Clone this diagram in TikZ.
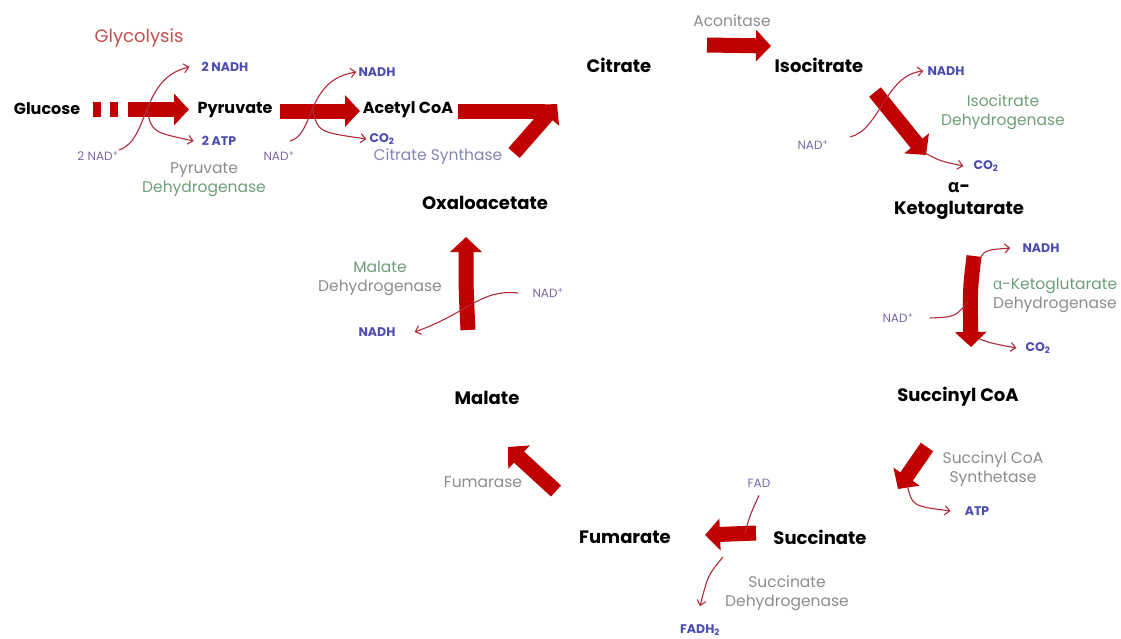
\documentclass[tikz,border=0pt]{standalone}
\usepackage{fontspec}
\setmainfont{Poppins}
\newfontfamily\greekfont{Open Sans}
\usetikzlibrary{arrows.meta}

\definecolor{fatred}{HTML}{C00000}
\definecolor{sidered}{HTML}{B02A3A}
\definecolor{glyred}{HTML}{C0504D}
\definecolor{cofblue}{HTML}{4B4BB0}
\definecolor{nadpurple}{HTML}{7A68A8}
\definecolor{enzgray}{HTML}{8C8C8C}
\definecolor{enzgreen}{HTML}{6E9E78}
\definecolor{enzblue}{HTML}{8484B4}

\tikzset{
  met/.style={font=\bfseries\fontsize{18}{22}\selectfont, text=black, inner sep=0pt, align=center},
  toprow/.style={met, font=\bfseries\fontsize{16}{20}\selectfont},
  cof/.style={font=\bfseries\fontsize{12.5}{14}\selectfont, text=cofblue, inner sep=0pt},
  nad/.style={font=\fontsize{12}{14}\selectfont, text=nadpurple, inner sep=0pt},
  enz/.style={font=\fontsize{15.5}{19}\selectfont, text=enzgray, align=center, inner sep=0pt},
  fatarrow/.style={line width=15pt, draw=fatred, -{Triangle[length=15pt,width=31pt]}},
  fatbar/.style={line width=15pt, draw=fatred},
  side/.style={line width=1.1pt, draw=sidered, -{Straight Barb[length=5pt,width=9pt]}},
  sidebar/.style={line width=1.1pt, draw=sidered},
}

\begin{document}
\begin{tikzpicture}[x=1pt,y=-1pt]
\useasboundingbox (0,0) rectangle (1121,638);

% metabolites
\node[toprow] (glucose) at (47,109) {Glucose};
\node[toprow] (pyruvate) at (235,110) {Pyruvate};
\node[toprow] (acetylcoa) at (408,110) {Acetyl CoA};
\node[met] (citrate) at (619,65) {Citrate};
\node[met] (isocitrate) at (819,65) {Isocitrate};
\node[met] (akg) at (959,201) {{\greekfont α}-\\Ketoglutarate};
\node[met] (succinylcoa) at (958,397) {Succinyl CoA};
\node[met] (succinate) at (820,537) {Succinate};
\node[met] (fumarate) at (625,537) {Fumarate};
\node[met] (malate) at (487,398) {Malate};
\node[met] (oxaloacetate) at (485,203) {Oxaloacetate};

% enzymes
\node[font=\fontsize{18}{20}\selectfont, text=glyred] (glycolysis) at (139,38) {Glycolysis};
\node[enz] (pdh) at (204,180) {Pyruvate\\\textcolor{enzgreen}{Dehydrogenase}};
\node[enz, text=enzblue] (cs) at (438,157) {Citrate Synthase};
\node[enz] (aconitase) at (732,21) {Aconitase};
\node[enz, text=enzgreen] (idh) at (1003,112) {Isocitrate\\Dehydrogenase};
\node[enz] (akgdh) at (1055,295) {\textcolor{enzgreen}{{\greekfont α}-Ketoglutarate}\\Dehydrogenase};
\node[enz] (scs) at (993,469) {Succinyl CoA\\Synthetase};
\node[enz] (sdh) at (787,593) {Succinate\\Dehydrogenase};
\node[enz] (fumarase) at (483,482) {Fumarase};
\node[enz] (mdh) at (380,278) {\textcolor{enzgreen}{Malate}\\Dehydrogenase};

% cofactors
\node[cof] (nadhA) at (225,67) {2 NADH};
\node[cof] (atpA) at (219,141) {2 ATP};
\node[nad] (nadA) at (98,156) {2 NAD\textsuperscript{+}};
\node[nad] (nadB) at (279,156) {NAD\textsuperscript{+}};
\node[cof] (nadhB) at (377,72) {NADH};
\node[cof] (coB) at (382,139) {CO\textsubscript{2}};
\node[cof] (nadhC) at (946,71) {NADH};
\node[nad] (nadC) at (813,145) {NAD\textsuperscript{+}};
\node[cof] (coC) at (986,166) {CO\textsubscript{2}};
\node[cof] (nadhD) at (1041,248) {NADH};
\node[nad] (nadD) at (898,318) {NAD\textsuperscript{+}};
\node[cof] (coD) at (1038,348) {CO\textsubscript{2}};
\node[cof] (atpE) at (977,511) {ATP};
\node[nad] (fad) at (759,483) {FAD};
\node[cof] (fadh) at (700,630) {FADH\textsubscript{2}};
\node[nad] (nadG) at (548,293) {NAD\textsuperscript{+}};
\node[cof] (nadhG) at (377,332) {NADH};

% big arrows
\coordinate (g1) at (93,109.5);
\coordinate (g2) at (189,109.5);
\draw[fatarrow, dash pattern=on 8pt off 9pt on 8pt off 10pt on 200pt] (g1) -- (g2);
\draw[fatarrow] (280,111) -- (360,111);
\draw[fatbar] (458,111) -- (545,111);
\draw[fatarrow] (514,153) -- (557,104);
\draw[fatarrow] (707,45) -- (771,46);
\draw[fatarrow] (875,92) -- (926,155);
\draw[fatarrow] (974,256) .. controls (970,290) .. (971,347);
\draw[fatarrow] (927,447) -- (898,489);
\draw[fatarrow] (756,533) -- (705,535);
\draw[fatarrow] (556,491) -- (508,447);
\draw[fatarrow] (468,330) .. controls (466,290) .. (466,237);

% side reactions
\coordinate (brA) at (147,110);
\draw[side] (119,150) .. controls (150,140) and (140,78) .. ([xshift=-12pt]nadhA.west);
\draw[side] (brA) .. controls (152,132) .. ([xshift=-8pt]atpA.west);

\coordinate (brB) at (313,110);
\draw[side] (290,141) .. controls (315,135) and (305,80) .. ([xshift=-2pt]nadhB.west);
\draw[side] (brB) .. controls (318,132) .. ([xshift=-3pt]coB.west);

\draw[side] (850,137) .. controls (880,130) and (885,75) .. ([xshift=-4pt]nadhC.west);
\draw[side] (925,153) .. controls (940,161) .. ([xshift=-10pt]coC.west);

\draw[side] (978,263) .. controls (984,250) .. ([xshift=-12pt]nadhD.west);
\draw[sidebar] ([xshift=16pt]nadD.east) .. controls (955,317) .. (968,302);
\draw[side] (977,338) .. controls (990,343) .. ([xshift=-9pt]coD.west);

\draw[side] (907,484) .. controls (912,506) .. ([xshift=-14pt]atpE.west);

\draw[sidebar] ([yshift=-8pt]fad.south) .. controls (750,515) .. (745,533);
\draw[side] (723,557) .. controls (708,575) .. ([yshift=18pt]fadh.north);

\draw[side] ([xshift=-14pt]nadG.west) .. controls (480,289) and (470,312) .. ([xshift=19pt]nadhG.east);
\end{tikzpicture}
\end{document}
